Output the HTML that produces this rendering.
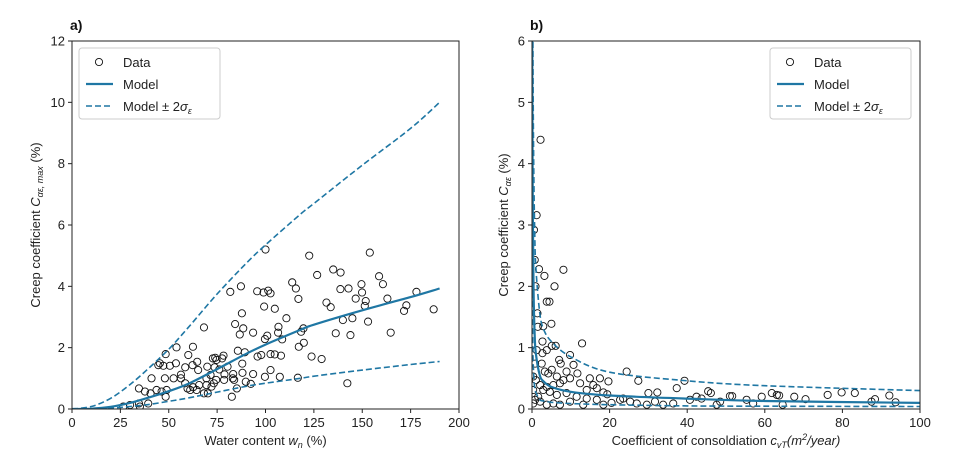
<!DOCTYPE html>
<html><head><meta charset="utf-8"><style>
body{margin:0;background:#fff;}
svg{display:block;font-family:"Liberation Sans","DejaVu Sans",sans-serif;}
</style></head><body>
<svg id="chart" width="953" height="476" viewBox="0 0 953 476"></svg>
<script>
// ---- Panel a data ----
const aDataX=[100,122.6,153.9,135,138.8,126.7,158.7,160.7,149.6,113.8,115.7,87.3,81.8,95.7,99,101.4,102.6,138.7,142.9,149.9,178,117,146.6,163,151.8,131.5,151.3,172.8,99.3,104.8,133.7,171.6,186.9,87.8,110.8,144.9,140,153,68.2,106.7,84.3,88.5,119.6,93.6,106.5,164.7,136.3,86.7,118.4,143.9,100.9,99.7,108.6,62.5,54,117.2,119.8,48.4,60.1,78.3,74,72.8,77.6,85.7,89.3,95.9,97.8,102.6,104.8,108,123.8,129,45.4,64.7,53.7,44.6,47.2,50.6,58.5,56.3,62.3,65.2,74.7,69.9,73.7,76.1,80.4,78.8,83.3,88,88.1,93.6,102.6,107.4,99.7,116.7,71.6,69.5,74.5,78.6,73.3,69.5,72.1,65.7,62.6,59.7,58.5,56.3,52.5,48,41.1,48.9,46.3,40.6,37.7,34.6,43.7,48.4,61.1,64.4,68.2,70.2,83.1,83.8,85.2,82.6,89.8,92.4,142.3,34.6,39.4,30,26.5,35.1];
const aDataY=[5.2,5.0,5.1,4.55,4.45,4.37,4.33,4.07,4.07,4.13,3.93,4.0,3.82,3.84,3.8,3.86,3.77,3.91,3.93,3.8,3.82,3.59,3.6,3.6,3.52,3.47,3.36,3.38,3.34,3.27,3.32,3.2,3.25,3.12,2.96,2.96,2.9,2.85,2.66,2.68,2.77,2.63,2.63,2.49,2.49,2.49,2.47,2.43,2.52,2.41,2.39,2.28,2.27,2.03,2.01,2.03,2.16,1.79,1.76,1.74,1.67,1.65,1.65,1.9,1.85,1.71,1.76,1.79,1.78,1.74,1.71,1.63,1.49,1.54,1.49,1.43,1.41,1.41,1.36,1.12,1.43,1.27,1.6,1.38,1.36,1.29,1.38,1.13,1.14,1.48,1.18,1.14,1.27,1.05,1.05,1.02,1.11,1.0,0.95,0.95,0.84,0.78,0.73,0.78,0.71,0.67,0.84,1.0,1.0,1.0,1.0,0.62,0.57,0.51,0.57,0.67,0.62,0.4,0.62,0.62,0.51,0.51,1.0,0.95,0.67,0.4,0.89,0.82,0.84,0.18,0.18,0.13,0.08,0.08];
const aModelX=[0,10,20,30,40,50,60,75,90,100,118,125,150,175,190];
const aModel=[0,0.01,0.07,0.2,0.38,0.58,0.82,1.3,1.8,2.1,2.58,2.75,3.22,3.65,3.93];
const aUpper=[0,0.08,0.35,0.8,1.35,1.95,2.65,3.75,4.75,5.35,6.35,6.7,7.95,9.15,10.0];
const aLower=[0,0.0,0.03,0.08,0.15,0.25,0.36,0.55,0.74,0.84,1.0,1.07,1.27,1.45,1.55];
const aXTicks=[0,25,50,75,100,125,150,175,200];
const aYTicks=[0,2,4,6,8,10,12];
// ---- Panel b data ----
const bDataX=[2.2,1.2,1.8,3.2,8.1,5.8,3.8,4.5,5,1.5,2.9,12.9,2.7,5.1,6.1,9.8,7,7.4,10.7,5.1,4.2,3.3,11.7,8.9,24.4,14.9,17.5,19.7,27.4,39.3,37.3,15.8,12.4,7.2,5.5,3.8,2.1,18.4,19.4,30,32.3,45.4,46.1,42.4,43.7,59.2,61.8,63.1,63.7,67.6,76.2,79.8,83.2,92.1,88.4,87.5,70.5,55.3,51,51.6,48.5,47.6,57,64.6,93.7,22.7,25.3,27,29.6,33.8,36.4,20.5,16.7,14.1,11.5,8.9,6.4,4.6,2.9,1.6,0.8,1.0,0.8,1.2,1.4,0.9,0.7,0.5,2.1,5.5,9.8,13.2,7.2,18.4,3.8,0.3,0.3,0.3,2.5,2.7,3.8,6.4,8.1,9.8,14.1,16.7,23.5,31.7,40.7];
const bDataY=[4.39,3.16,2.28,2.17,2.27,2.0,1.75,1.75,1.39,1.34,1.35,1.07,1.1,1.03,1.03,0.88,0.8,0.74,0.72,0.64,0.58,0.61,0.58,0.61,0.61,0.5,0.5,0.45,0.46,0.46,0.34,0.39,0.42,0.42,0.39,0.36,0.39,0.27,0.24,0.26,0.27,0.29,0.26,0.2,0.17,0.2,0.26,0.23,0.22,0.2,0.23,0.27,0.26,0.22,0.16,0.12,0.16,0.15,0.21,0.21,0.12,0.07,0.09,0.07,0.11,0.15,0.12,0.09,0.07,0.07,0.09,0.1,0.15,0.17,0.2,0.26,0.23,0.28,0.31,0.2,0.15,0.47,0.74,0.96,1.56,2.0,2.43,2.92,0.12,0.09,0.12,0.07,0.07,0.07,0.07,0.09,0.31,0.53,0.74,0.91,0.96,0.53,0.47,0.5,0.31,0.34,0.17,0.12,0.15];
const bModelX=[0.05,0.1,0.2,0.4,0.7,1,2,3,5,10,20,40,60,100];
const bModel=[6.5,5,3.2,1.9,1.2,0.9,0.55,0.45,0.36,0.28,0.22,0.17,0.13,0.1];
const bUpper=[12,9,6.5,4.2,2.9,2.3,1.56,1.3,1.1,0.85,0.6,0.46,0.38,0.3];
const bLower=[2.2,1.6,1,0.6,0.35,0.27,0.15,0.13,0.11,0.09,0.07,0.05,0.045,0.04];
const bXTicks=[0,20,40,60,80,100];
const bYTicks=[0,1,2,3,4,5,6];

const NS="http://www.w3.org/2000/svg";
const svg=document.getElementById('chart');
const BLUE="#1f77a4";
function mk(tag,attrs,parent){const e=document.createElementNS(NS,tag);for(const k in attrs)e.setAttribute(k,attrs[k]);(parent||svg).appendChild(e);return e;}
function smooth(pts){
  let d='M'+pts[0][0].toFixed(1)+','+pts[0][1].toFixed(1);
  for(let i=0;i<pts.length-1;i++){
    const p0=pts[Math.max(0,i-1)],p1=pts[i],p2=pts[i+1],p3=pts[Math.min(pts.length-1,i+2)];
    const c1=[p1[0]+(p2[0]-p0[0])/6,p1[1]+(p2[1]-p0[1])/6];
    const c2=[p2[0]-(p3[0]-p1[0])/6,p2[1]-(p3[1]-p1[1])/6];
    d+='C'+c1[0].toFixed(1)+','+c1[1].toFixed(1)+' '+c2[0].toFixed(1)+','+c2[1].toFixed(1)+' '+p2[0].toFixed(1)+','+p2[1].toFixed(1);
  }
  return d;
}

function panel(cfg){
  const g=mk('g',{});
  
  
  const L=cfg.L,R=cfg.R,T=41,B=409;
  const sx=v=>L+(v-cfg.xmin)/(cfg.xmax-cfg.xmin)*(R-L);
  const sy=v=>B-(v-cfg.ymin)/(cfg.ymax-cfg.ymin)*(B-T);
  const clip=mk('clipPath',{id:cfg.name+'-clip'},g);
  mk('rect',{x:L,y:T,width:R-L,height:B-T},clip);
  const plot=mk('g',{'clip-path':'url(#'+cfg.name+'-clip)'},g);
  for(let i=0;i<cfg.dx.length;i++){
    const c=mk('circle',{cx:sx(cfg.dx[i]),cy:sy(cfg.dy[i]),r:3.6,fill:'none',stroke:'#111','stroke-width':0.9},plot);
    
    
  }
  function line(xs,ys,dash,nm,w){
    const d=smooth(xs.map((x,i)=>[sx(x),sy(ys[i])]));
    const p=mk('path',{d:d,fill:'none',stroke:BLUE,'stroke-width':w,'stroke-dasharray':dash||'none'},plot);
    
    
  }
  line(cfg.mx,cfg.upper,'6,3','model-upper-bound',1.6);
  line(cfg.mx,cfg.lower,'6,3','model-lower-bound',1.6);
  line(cfg.mx,cfg.model,null,'model-line',2.2);
  mk('rect',{x:L,y:T,width:R-L,height:B-T,fill:'none',stroke:'#222','stroke-width':1},g);
  cfg.xt.forEach(v=>{
    mk('line',{x1:sx(v),x2:sx(v),y1:B,y2:B+4,stroke:'#222'},g);
    const t=mk('text',{x:sx(v),y:B+18,'text-anchor':'middle','font-size':13,fill:'#222'},g);t.textContent=v;
    
    
  });
  cfg.yt.forEach(v=>{
    mk('line',{x1:L-4,x2:L,y1:sy(v),y2:sy(v),stroke:'#222'},g);
    const t=mk('text',{x:L-7,y:sy(v)+4.5,'text-anchor':'end','font-size':13,fill:'#222'},g);t.textContent=v;
    
    
  });
  const tl=mk('text',{x:L-2,y:30,'font-size':14,'font-weight':'bold',fill:'#111'},g);tl.textContent=cfg.tag;
  
  
  const xl=mk('text',{x:(L+R)/2,y:B+36,'text-anchor':'middle','font-size':13,fill:'#222'},g);xl.innerHTML=cfg.xlabel;
  
  
  const yl=mk('text',{x:0,y:0,'text-anchor':'middle','font-size':13,fill:'#222',transform:'translate('+(cfg.ylx)+','+((T+B)/2)+') rotate(-90)'},g);yl.innerHTML=cfg.ylabel;
  
  
  const lg=mk('g',{},g);
  
  
  const lx=cfg.legX;
  mk('rect',{x:lx,y:48,width:141,height:71,rx:3,fill:'#fff',stroke:'#ccc'},lg);
  mk('circle',{cx:lx+20,cy:62,r:3.6,fill:'none',stroke:'#111','stroke-width':0.9},lg);
  mk('line',{x1:lx+7,x2:lx+34,y1:84,y2:84,stroke:BLUE,'stroke-width':2.2},lg);
  mk('line',{x1:lx+7,x2:lx+34,y1:106,y2:106,stroke:BLUE,'stroke-width':1.6,'stroke-dasharray':'6,3'},lg);
  const l1=mk('text',{x:lx+44,y:67,'font-size':13,fill:'#222'},lg);l1.textContent='Data';
  const l2=mk('text',{x:lx+44,y:89,'font-size':13,fill:'#222'},lg);l2.textContent='Model';
  const l3=mk('text',{x:lx+44,y:111,'font-size':13,fill:'#222'},lg);l3.innerHTML='Model ± 2<tspan font-style="italic">σ</tspan><tspan font-size="9" font-style="italic" dy="3">ε</tspan>';
}
panel({name:'panel-a',tag:'a)',L:72,R:459,xmin:0,xmax:200,ymin:0,ymax:12,dx:aDataX,dy:aDataY,mx:aModelX,model:aModel,upper:aUpper,lower:aLower,xt:aXTicks,yt:aYTicks,legX:79,ylx:40,
  xlabel:'Water content <tspan font-style="italic">w</tspan><tspan font-size="9" font-style="italic" dy="3">n</tspan><tspan dy="-3"> (%)</tspan>',
  ylabel:'Creep coefficient <tspan font-style="italic">C</tspan><tspan font-size="9" font-style="italic" dy="3">αε, max</tspan><tspan dy="-3"> (%)</tspan>'});
panel({name:'panel-b',tag:'b)',L:532,R:920,xmin:0,xmax:100,ymin:0,ymax:6,dx:bDataX,dy:bDataY,mx:bModelX,model:bModel,upper:bUpper,lower:bLower,xt:bXTicks,yt:bYTicks,legX:770,ylx:508,
  xlabel:'Coefficient of consoldiation <tspan font-style="italic">c</tspan><tspan font-size="9" font-style="italic" dy="3">vT</tspan><tspan dy="-3" font-style="italic">(m</tspan><tspan font-size="9" dy="-5" font-style="italic">2</tspan><tspan dy="5" font-style="italic">/year)</tspan>',
  ylabel:'Creep coefficient <tspan font-style="italic">C</tspan><tspan font-size="9" font-style="italic" dy="3">αε</tspan><tspan dy="-3"> (%)</tspan>'});
</script>
</body></html>
